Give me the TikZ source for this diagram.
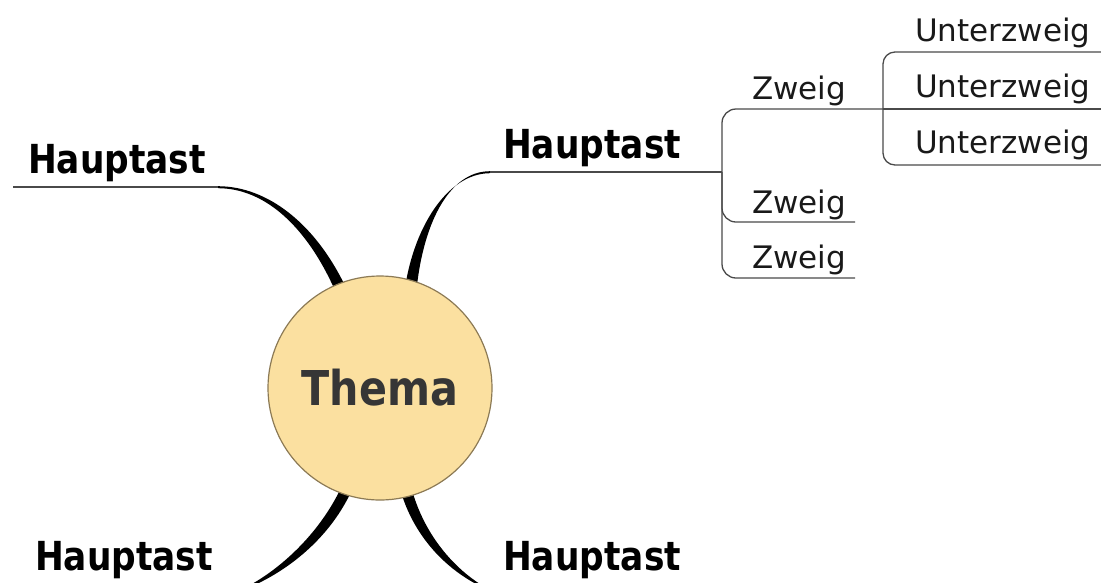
\documentclass[tikz,border=0pt]{standalone}
\usepackage{fontspec}
\newfontfamily\headfont{DejaVu Sans}[FakeStretch=0.86]
\newfontfamily\twigfont{DejaVu Sans}
\definecolor{themefill}{RGB}{251,224,160}
\definecolor{themeedge}{RGB}{140,122,85}
\definecolor{themetext}{RGB}{54,54,54}
\definecolor{twigline}{RGB}{74,74,74}
\tikzset{
  mainlabel/.style={anchor=base west, inner sep=0pt, text=black,
    font=\headfont\bfseries\fontsize{40}{48}\selectfont},
  twiglabel/.style={anchor=base west, inner sep=0pt, text=black!90,
    font=\twigfont\fontsize{31}{37}\selectfont},
  twig/.style={draw=twigline, line width=1.3pt},
  limb/.style={fill=black},
  topic/.style={circle, draw=themeedge, line width=1.2pt, fill=themefill,
    minimum size=224pt, inner sep=0pt, text=themetext,
    font=\headfont\bfseries\fontsize{48}{56}\selectfont}
}
\begin{document}
\begin{tikzpicture}[x=1pt, y=-1pt]
\useasboundingbox (0,0) rectangle (1101,582);
\clip (0,0) rectangle (1101,582);

% main branches (tapered limbs), drawn below the central circle
\fill[limb] (218,186.2) .. controls (266,186.2) and (316,222) .. (348,292)
  -- (337,295) .. controls (308,227) and (265,188.2) .. (218,188.2) -- cycle;
\fill[limb] (490,171.2) .. controls (448,171.2) and (422,226) .. (416,295)
  -- (404,295) .. controls (412,229) and (447,173.2) .. (490,173.2) -- cycle;
\fill[limb] (200,599) .. controls (242,599) and (318,562) .. (351,492)
  -- (340,490) .. controls (307,557) and (239,601) .. (200,601) -- cycle;
\fill[limb] (530,599) .. controls (486,599) and (422,562) .. (401,492)
  -- (412,490) .. controls (431,558) and (489,601) .. (530,601) -- cycle;

% central topic
\node[topic] (thema) at (380,388) {Thema};

% main branch labels
\node[mainlabel] (hTL) at (28,173) {Hauptast};
\node[mainlabel] (hTR) at (503,158) {Hauptast};
\node[mainlabel] (hBL) at (35,570) {Hauptast};
\node[mainlabel] (hBR) at (503,570) {Hauptast};

% underlines of the upper main branches
\coordinate (tlA) at (13,187);
\coordinate (tlB) at (218,187);
\coordinate (trA) at (490,172);
\coordinate (hub) at (722,172);
\draw[twig] (tlA) -- (tlB);
\draw[twig] (trA) -- (hub);

% twigs
\node[twiglabel] (z1) at (752,99) {Zweig};
\node[twiglabel] (z2) at (752,213) {Zweig};
\node[twiglabel] (z3) at (752,268) {Zweig};
\coordinate (sub) at (883,109);
\coordinate (z2e) at (855,222);
\coordinate (z3e) at (855,278);
\draw[twig, rounded corners=14pt] (hub) |- (sub);
\draw[twig, rounded corners=14pt] (hub) |- (z2e);
\draw[twig, rounded corners=14pt] (hub) |- (z3e);

% sub-twigs
\node[twiglabel] (u1) at (915,41) {Unterzweig};
\node[twiglabel] (u2) at (915,97) {Unterzweig};
\node[twiglabel] (u3) at (915,153) {Unterzweig};
\coordinate (u1e) at (1101,52);
\coordinate (u2e) at (1101,109);
\coordinate (u3e) at (1101,165);
\draw[twig, rounded corners=12pt] (sub) |- (u1e);
\draw[twig] (sub) -- (u2e);
\draw[twig, rounded corners=12pt] (sub) |- (u3e);
\end{tikzpicture}
\end{document}
